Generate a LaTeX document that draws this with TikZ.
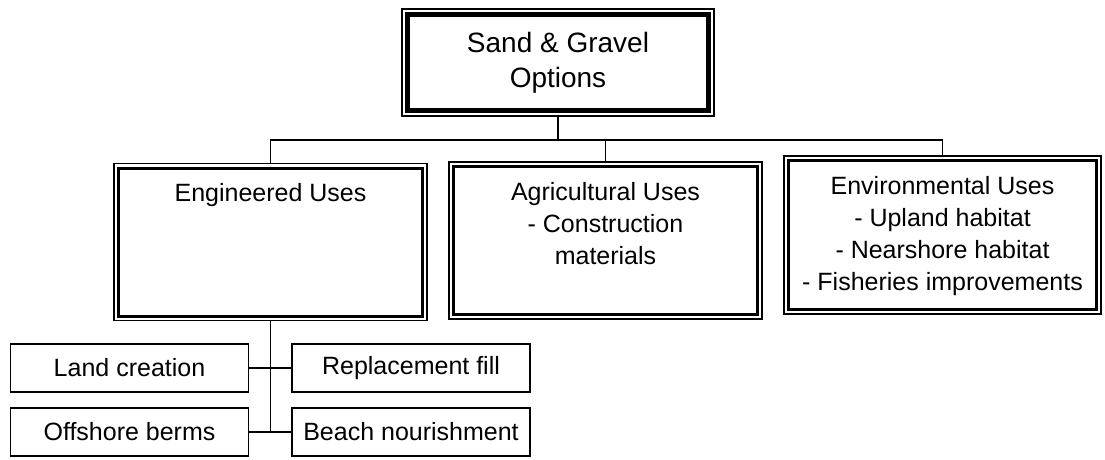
\documentclass[tikz,border=0pt]{standalone}
\usepackage{fontspec}
\setmainfont{Liberation Sans}
\usetikzlibrary{positioning}
\begin{document}
\begin{tikzpicture}[x=1pt,y=1pt,line width=1.8pt,
		inframe/.style 2 args={path picture={\draw[line width=#1]
					([shift={(#2,-#2)}]path picture bounding box.north west) rectangle
					([shift={(-#2,#2)}]path picture bounding box.south east);}},
		topbox/.style={draw,inner sep=0pt,minimum width=312pt,minimum height=107pt,
				align=center,font=\fontsize{28}{35}\selectfont,inframe={4.5pt}{5.5pt}},
		usebox/.style={draw,inner sep=0pt,minimum width=313pt,minimum height=157pt,
				inframe={3pt}{4.5pt}},
		leafbox/.style={draw,inner sep=0pt,minimum width=238pt,minimum height=48pt,
				font=\fontsize{25}{30}\selectfont},
		lbl/.style={inner sep=0pt,align=center,font=\fontsize{25}{32}\selectfont}]
		\useasboundingbox (0,0) rectangle (1105,-459);
		% top and the three uses
		\node[topbox] (opt) at (558,-62.5) {Sand \& Gravel\\Options};
		\node[usebox] (eng) at (270.5,-242) {};
		\node[usebox] (agr) at (605.5,-240.5) {};
		\node[usebox,minimum width=317pt,minimum height=158pt] (env) at (942.5,-235) {};
		\node[lbl,below=20pt of eng.north] (engt) {Engineered Uses};
		\node[lbl,below=20pt of agr.north] (agrt) {Agricultural Uses\\- Construction\\materials};
		\node[lbl,below=20pt of env.north] (envt) {Environmental Uses\\- Upland habitat\\- Nearshore habitat\\- Fisheries improvements};
		% engineered uses
		\node[leafbox] (land) at (129.5,-368) {Land creation};
		\node[leafbox] (repl) at (411,-368) {Replacement fill};
		\node[leafbox] (offs) at (129.5,-432) {Offshore berms};
		\node[leafbox] (beach) at (411,-432) {Beach nourishment};
		\coordinate (bus) at (0,-140);
		\draw (opt.south) -- (opt.south |- bus);
		\draw (eng.north) -- (eng.north |- bus) -- (env.north |- bus) -- (env.north);
		\draw (agr.north) -- (agr.north |- bus);
		\draw (eng.south) -- (eng.south |- offs.east);
		\draw (land.east) -- (repl.west);
		\draw (offs.east) -- (beach.west);
	\end{tikzpicture}
\end{document}
